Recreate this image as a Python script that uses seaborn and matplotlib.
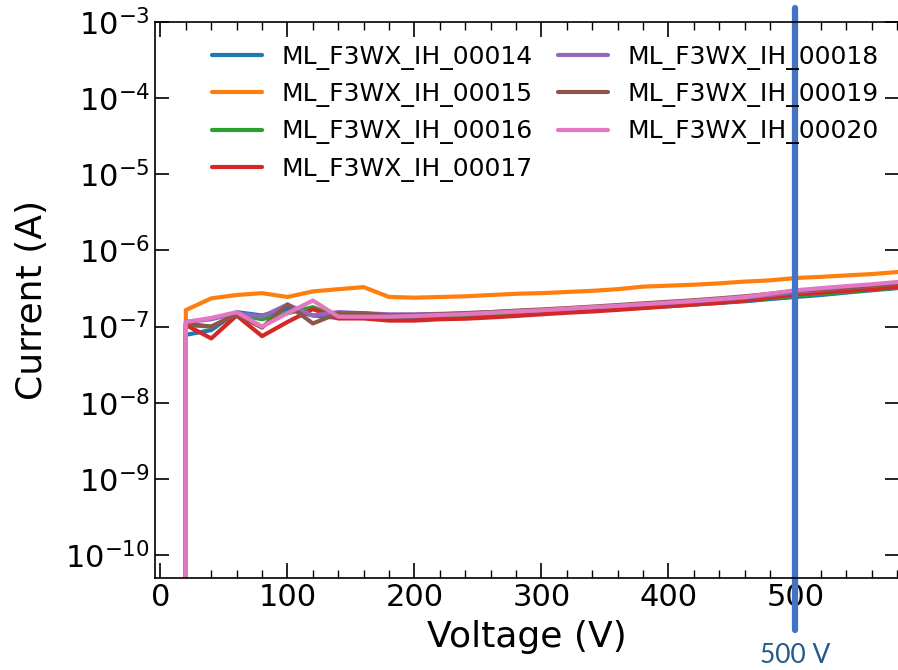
import matplotlib
matplotlib.use("Agg")
import matplotlib.pyplot as plt
import seaborn as sns
import pandas as pd
from matplotlib.ticker import MultipleLocator, LogLocator, NullLocator

# voltage steps (first reading at 20 V is the zero-current start)
voltage = [20, 20, 40, 60, 80, 100, 120, 140, 160, 180, 200, 220, 240, 260, 280, 300,
           320, 340, 360, 380, 400, 420, 440, 460, 480, 500, 520, 540, 560, 580, 600]

sensors = ["ML_F3WX_IH_00014", "ML_F3WX_IH_00015", "ML_F3WX_IH_00016", "ML_F3WX_IH_00017",
           "ML_F3WX_IH_00018", "ML_F3WX_IH_00019", "ML_F3WX_IH_00020"]

i_00014 = [1e-13, 7.8e-8, 9.0e-8, 1.55e-7, 1.4e-7, 1.7e-7, 1.4e-7, 1.3e-7, 1.3e-7, 1.3e-7, 1.32e-7,
           1.35e-7, 1.38e-7, 1.42e-7, 1.47e-7, 1.52e-7, 1.58e-7, 1.63e-7, 1.7e-7, 1.78e-7, 1.85e-7,
           1.95e-7, 2.05e-7, 2.15e-7, 2.3e-7, 2.45e-7, 2.6e-7, 2.8e-7, 3.0e-7, 3.2e-7, 3.35e-7]
i_00015 = [1e-13, 1.65e-7, 2.35e-7, 2.6e-7, 2.75e-7, 2.45e-7, 2.9e-7, 3.1e-7, 3.3e-7, 2.45e-7, 2.4e-7,
           2.45e-7, 2.5e-7, 2.6e-7, 2.7e-7, 2.75e-7, 2.85e-7, 2.95e-7, 3.1e-7, 3.35e-7, 3.45e-7,
           3.55e-7, 3.7e-7, 3.9e-7, 4.05e-7, 4.35e-7, 4.5e-7, 4.7e-7, 4.9e-7, 5.2e-7, 5.4e-7]
i_00016 = [1e-13, 1.05e-7, 1.0e-7, 1.45e-7, 1.25e-7, 1.5e-7, 1.8e-7, 1.35e-7, 1.35e-7, 1.35e-7, 1.38e-7,
           1.4e-7, 1.42e-7, 1.46e-7, 1.5e-7, 1.55e-7, 1.6e-7, 1.66e-7, 1.73e-7, 1.8e-7, 1.88e-7,
           1.97e-7, 2.07e-7, 2.2e-7, 2.35e-7, 2.55e-7, 2.7e-7, 2.85e-7, 3.05e-7, 3.25e-7, 3.4e-7]
i_00017 = [1e-13, 1.05e-7, 7.0e-8, 1.4e-7, 7.5e-8, 1.15e-7, 1.7e-7, 1.28e-7, 1.28e-7, 1.2e-7, 1.2e-7,
           1.25e-7, 1.27e-7, 1.32e-7, 1.38e-7, 1.45e-7, 1.52e-7, 1.58e-7, 1.66e-7, 1.75e-7, 1.85e-7,
           1.95e-7, 2.05e-7, 2.2e-7, 2.4e-7, 2.65e-7, 2.8e-7, 2.95e-7, 3.1e-7, 3.3e-7, 3.45e-7]
i_00018 = [1e-13, 1.15e-7, 1.25e-7, 1.5e-7, 1.35e-7, 1.95e-7, 1.4e-7, 1.55e-7, 1.5e-7, 1.45e-7, 1.45e-7,
           1.47e-7, 1.5e-7, 1.55e-7, 1.6e-7, 1.65e-7, 1.72e-7, 1.8e-7, 1.88e-7, 1.97e-7, 2.05e-7,
           2.15e-7, 2.27e-7, 2.4e-7, 2.6e-7, 2.85e-7, 3.05e-7, 3.25e-7, 3.45e-7, 3.7e-7, 3.85e-7]
i_00019 = [1e-13, 1.1e-7, 1.0e-7, 1.45e-7, 9.7e-8, 1.95e-7, 1.1e-7, 1.5e-7, 1.5e-7, 1.4e-7, 1.42e-7,
           1.45e-7, 1.5e-7, 1.55e-7, 1.62e-7, 1.68e-7, 1.75e-7, 1.83e-7, 1.92e-7, 2.02e-7, 2.12e-7,
           2.22e-7, 2.35e-7, 2.5e-7, 2.7e-7, 2.95e-7, 3.1e-7, 3.25e-7, 3.45e-7, 3.65e-7, 3.8e-7]
i_00020 = [1e-13, 1.15e-7, 1.3e-7, 1.55e-7, 1.0e-7, 1.5e-7, 2.2e-7, 1.35e-7, 1.35e-7, 1.35e-7, 1.38e-7,
           1.42e-7, 1.46e-7, 1.52e-7, 1.58e-7, 1.64e-7, 1.72e-7, 1.8e-7, 1.88e-7, 1.97e-7, 2.07e-7,
           2.17e-7, 2.3e-7, 2.45e-7, 2.7e-7, 3.0e-7, 3.2e-7, 3.4e-7, 3.6e-7, 3.85e-7, 4.0e-7]

currents = [i_00014, i_00015, i_00016, i_00017, i_00018, i_00019, i_00020]

rows = []
for name, cur in zip(sensors, currents):
    for v, c in zip(voltage, cur):
        rows.append({"Voltage": v, "Current": c, "Sensor": name})
df = pd.DataFrame(rows)

sns.set_theme(style="ticks", rc={
    "xtick.direction": "in", "ytick.direction": "in",
    "xtick.top": True, "ytick.right": True,
    "xtick.major.size": 11, "ytick.major.size": 10,
    "xtick.minor.size": 6, "xtick.major.width": 1.2, "ytick.major.width": 1.2,
    "xtick.minor.width": 1.0, "axes.linewidth": 1.2,
    "text.color": "black", "axes.labelcolor": "black",
    "xtick.color": "black", "ytick.color": "black", "axes.edgecolor": "black",
})
plt.rcParams["font.family"] = ["DejaVu Sans"]

fig = plt.figure(figsize=(8.98, 6.70), dpi=100)
ax = fig.add_axes([155 / 898, 92 / 670, 744 / 898, 556 / 670])

sns.lineplot(data=df, x="Voltage", y="Current", hue="Sensor", palette="tab10",
             estimator=None, sort=False, units="Sensor", linewidth=3, ax=ax)

ax.set_yscale("log")
ax.set_xlim(-4.3, 581.5)
ax.set_ylim(5e-11, 1e-3)
ax.xaxis.set_major_locator(MultipleLocator(100))
ax.xaxis.set_minor_locator(MultipleLocator(20))
ax.yaxis.set_major_locator(LogLocator(base=10, numticks=20))
ax.yaxis.set_minor_locator(NullLocator())
ax.tick_params(axis="both", which="major", labelsize=22)
ax.set_xlabel("Voltage (V)", fontsize=26, labelpad=6)
ax.set_ylabel("Current (A)", fontsize=26, labelpad=12)

ax.legend(loc="upper left", bbox_to_anchor=(0.046, 1.0), ncol=2, frameon=False,
          fontsize=18, columnspacing=1.0, handlelength=2.0, handletextpad=0.8,
          labelspacing=0.5)
for line in ax.get_legend().get_lines():
    line.set_linewidth(3)

# 500 V marker overlay
ax.axvline(500, ymin=-0.094, ymax=1.025, color="#4472C4", linewidth=4.5, clip_on=False)
ax.text(500, -0.14, "500 V", transform=ax.get_xaxis_transform(), ha="center", va="center",
        fontsize=19, color="#245A8A", family=["Lato", "DejaVu Sans"])

fig.savefig("out.png", dpi=100)
